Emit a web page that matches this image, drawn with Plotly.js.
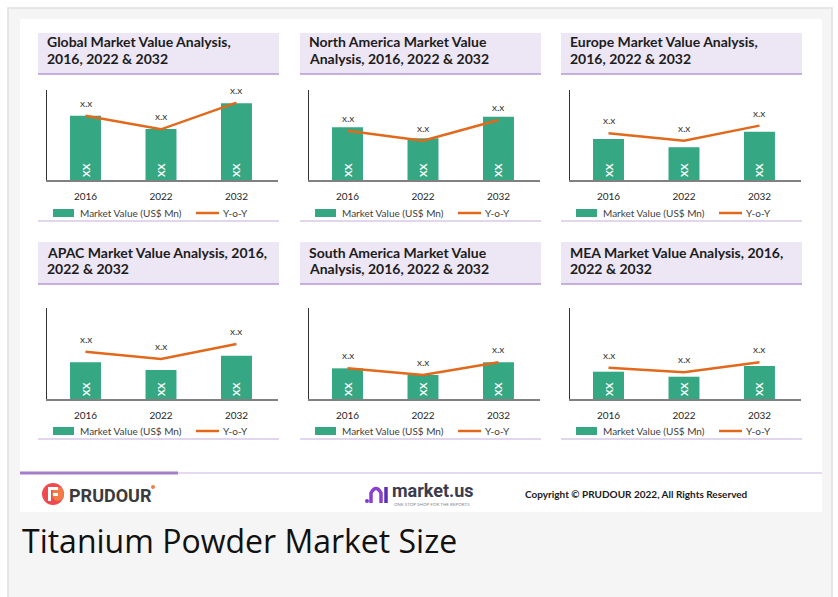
<!DOCTYPE html>
<html>
<head>
<meta charset="utf-8">
<script src="https://cdn.plot.ly/plotly-3.0.1.min.js"></script>
<style>
html,body{margin:0;padding:0;background:#ffffff;}
#chart{width:838px;height:597px;}
</style>
</head>
<body>
<div id="chart"></div>
<script>
// ---------------- DATA ----------------
const years = ['2016', '2022', '2032'];
const valueLabels = ['x.x', 'x.x', 'x.x'];
const barLabels = ['XX', 'XX', 'XX'];

const globalValue = [71.4, 56.7, 85.2];
const globalYoY   = [71.4, 56.3, 85.9];
const naValue     = [58.5, 46.3, 70.4];
const naYoY       = [54.8, 43.7, 66.7];
const europeValue = [45.6, 36.3, 53.7];
const europeYoY   = [51.9, 43.7, 60.4];
const apacValue   = [40.3, 31.9, 47.6];
const apacYoY     = [52.0, 44.0, 60.4];
const saValue     = [33.7, 26.4, 40.3];
const saYoY       = [33.7, 26.4, 40.3];
const meaValue    = [30.0, 24.5, 36.3];
const meaYoY      = [34.4, 29.3, 40.3];

const titles = [
  ['Global Market Value Analysis,', '2016, 2022 & 2032'],
  ['North America Market Value', 'Analysis, 2016, 2022 & 2032'],
  ['Europe Market Value Analysis,', '2016, 2022 & 2032'],
  ['APAC Market Value Analysis, 2016,', '2022 & 2032'],
  ['South America Market Value', 'Analysis, 2016, 2022 & 2032'],
  ['MEA Market Value Analysis, 2016,', '2022 & 2032']
];
const seriesValue = [globalValue, naValue, europeValue, apacValue, saValue, meaValue];
const seriesYoY = [globalYoY, naYoY, europeYoY, apacYoY, saYoY, meaYoY];
const legendNames = ['Market Value (US$ Mn)', 'Y-o-Y'];
const caption = 'Titanium Powder Market Size';
const copyright = 'Copyright © PRUDOUR 2022, All Rights Reserved';

// ---------------- LAYOUT HELPERS ----------------
const W = 838, H = 597;
const X = v => v / W;
const Y = v => 1 - v / H;
const FONT = 'Lato, "Open Sans", sans-serif';
const BAR = '#35a783';
const LINE = '#e2691b';
const BOXFILL = '#ede6f4';
const BOXLINE = '#b598d6';

const colLefts = [38, 300, 561];
const rows = [
  {boxTop: 33, boxBot: 74, t1: 42, t2: 58, plotTop: 90, base: 180, legend: 213, sep: 221},
  {boxTop: 242, boxBot: 284, t1: 252, t2: 268, plotTop: 308, base: 399, legend: 431, sep: 439}
];

const traces = [];
const shapes = [];
const annotations = [];
const layout = {
  width: W, height: H,
  margin: {l: 0, r: 0, t: 0, b: 0},
  paper_bgcolor: '#ffffff',
  plot_bgcolor: 'rgba(0,0,0,0)',
  showlegend: false,
  font: {family: FONT, color: '#262626'},
  bargap: 0.5
};

// page frame
shapes.push({type: 'rect', xref: 'paper', yref: 'paper', x0: X(8), x1: X(832), y0: Y(600), y1: Y(8),
  fillcolor: '#f5f5f5', line: {color: '#e0e0e0', width: 1.5}, layer: 'below'});
shapes.push({type: 'rect', xref: 'paper', yref: 'paper', x0: X(20), x1: X(822), y0: Y(512), y1: Y(19),
  fillcolor: '#ffffff', line: {width: 0}, layer: 'below'});

for (let i = 0; i < 6; i++) {
  const n = i + 1;
  const suf = n === 1 ? '' : String(n);
  const r = rows[Math.floor(i / 3)];
  const left = colLefts[i % 3];

  traces.push({
    type: 'bar', x: years, y: seriesValue[i], xaxis: 'x' + suf, yaxis: 'y' + suf,
    name: legendNames[0], width: 0.41,
    marker: {color: BAR},
    text: barLabels, textposition: 'inside', insidetextanchor: 'start', textangle: -90,
    textfont: {color: '#ffffff', size: 10, family: FONT, weight: 'bold'},
    hoverinfo: 'skip', cliponaxis: false
  });
  traces.push({
    type: 'scatter', mode: 'lines', x: years, y: seriesYoY[i], xaxis: 'x' + suf, yaxis: 'y' + suf,
    name: legendNames[1], line: {color: LINE, width: 2.5}, hoverinfo: 'skip'
  });
  seriesYoY[i].forEach((v, k) => {
    annotations.push({xref: 'x' + suf, yref: 'y' + suf, x: k, y: v, yshift: 13,
      text: valueLabels[k], showarrow: false, font: {size: 10, color: '#333333', family: FONT}});
  });

  layout['xaxis' + suf] = {
    anchor: 'y' + suf, domain: [X(left + 9), X(left + 240)], type: 'category',
    range: [-0.51, 2.55], showline: true, linecolor: '#808080', linewidth: 1.5,
    ticks: '', showgrid: false, zeroline: false, fixedrange: true,
    tickfont: {size: 10, color: '#262626', family: FONT}, ticklabelstandoff: 6
  };
  layout['yaxis' + suf] = {
    anchor: 'x' + suf, domain: [Y(r.base), Y(r.plotTop)], range: [0, 100],
    showline: true, linecolor: '#333333', linewidth: 1, showticklabels: false,
    ticks: '', showgrid: false, zeroline: false, fixedrange: true
  };

  // title box
  shapes.push({type: 'rect', xref: 'paper', yref: 'paper', x0: X(left), x1: X(left + 241),
    y0: Y(r.boxBot), y1: Y(r.boxTop), fillcolor: BOXFILL, line: {width: 0}, layer: 'below'});
  shapes.push({type: 'line', xref: 'paper', yref: 'paper', x0: X(left), x1: X(left + 241),
    y0: Y(r.boxBot), y1: Y(r.boxBot), line: {color: BOXLINE, width: 1.5}});
  [r.t1, r.t2].forEach((ty, k) => {
    annotations.push({xref: 'paper', yref: 'paper', x: X(left + 7), y: Y(ty), xanchor: 'left', yanchor: 'middle',
      text: titles[i][k], showarrow: false, font: {size: 14, color: '#1c1c1c', family: FONT, weight: 'bold'}});
  });

  // legend
  shapes.push({type: 'rect', xref: 'paper', yref: 'paper', x0: X(left + 15), x1: X(left + 36),
    y0: Y(r.legend + 4), y1: Y(r.legend - 4), fillcolor: BAR, line: {width: 0}});
  annotations.push({xref: 'paper', yref: 'paper', x: X(left + 40), y: Y(r.legend), xanchor: 'left', yanchor: 'middle',
    text: legendNames[0], showarrow: false, font: {size: 10, color: '#404040', family: FONT}});
  shapes.push({type: 'line', xref: 'paper', yref: 'paper', x0: X(left + 158), x1: X(left + 181),
    y0: Y(r.legend), y1: Y(r.legend), line: {color: LINE, width: 2.5}});
  annotations.push({xref: 'paper', yref: 'paper', x: X(left + 183), y: Y(r.legend), xanchor: 'left', yanchor: 'middle',
    text: legendNames[1], showarrow: false, font: {size: 10, color: '#404040', family: FONT}});
  // separator under legend
  shapes.push({type: 'line', xref: 'paper', yref: 'paper', x0: X(left), x1: X(left + 241),
    y0: Y(r.sep), y1: Y(r.sep), line: {color: '#d8c8ea', width: 1.5}});
}

// footer lines
shapes.push({type: 'line', xref: 'paper', yref: 'paper', x0: X(178), x1: X(822), y0: Y(473), y1: Y(473),
  line: {color: '#dccbec', width: 1.5}});
shapes.push({type: 'line', xref: 'paper', yref: 'paper', x0: X(20), x1: X(178), y0: Y(473), y1: Y(473),
  line: {color: '#a27fc9', width: 3}});

// PRUDOUR logo
shapes.push({type: 'circle', xref: 'paper', yref: 'paper', x0: X(42), x1: X(64), y0: Y(505), y1: Y(483),
  fillcolor: '#ee4a4f', line: {width: 0}});
shapes.push({type: 'circle', xref: 'paper', yref: 'paper', x0: X(52), x1: X(64), y0: Y(501), y1: Y(487),
  fillcolor: '#f47a48', line: {width: 0}});
shapes.push({type: 'rect', xref: 'paper', yref: 'paper', x0: X(48), x1: X(51), y0: Y(501), y1: Y(487),
  fillcolor: '#ffffff', line: {width: 0}});
shapes.push({type: 'rect', xref: 'paper', yref: 'paper', x0: X(48), x1: X(58), y0: Y(490), y1: Y(487),
  fillcolor: '#ffffff', line: {width: 0}});
shapes.push({type: 'rect', xref: 'paper', yref: 'paper', x0: X(53), x1: X(58), y0: Y(496), y1: Y(493),
  fillcolor: '#ffffff', line: {width: 0}});
annotations.push({xref: 'paper', yref: 'paper', x: X(67), y: Y(495), xanchor: 'left', yanchor: 'middle',
  text: 'PRUDOUR', showarrow: false, font: {size: 18, color: '#3b3b3b', family: 'Roboto, sans-serif', weight: 'bold'}});
shapes.push({type: 'circle', xref: 'paper', yref: 'paper', x0: X(151), x1: X(155), y0: Y(489), y1: Y(485),
  fillcolor: '#f47e45', line: {width: 0}});

// market.us logo
shapes.push({type: 'circle', xref: 'paper', yref: 'paper', x0: X(365), x1: X(369), y0: Y(503), y1: Y(499),
  fillcolor: '#7d3cc8', line: {width: 0}});
shapes.push({type: 'path', xref: 'paper', yref: 'paper',
  path: 'M ' + X(371) + ',' + Y(503) + ' L ' + X(371) + ',' + Y(493) + ' Q ' + X(376) + ',' + Y(484) + ' ' + X(381) + ',' + Y(493) + ' L ' + X(381) + ',' + Y(503),
  line: {color: '#8a3fd1', width: 3.5}});
shapes.push({type: 'line', xref: 'paper', yref: 'paper', x0: X(386), x1: X(386), y0: Y(503), y1: Y(487),
  line: {color: '#5b2fb0', width: 3.5}});
annotations.push({xref: 'paper', yref: 'paper', x: X(390), y: Y(490), xanchor: 'left', yanchor: 'middle',
  text: 'market.us', showarrow: false, font: {size: 18, color: '#3b3b4d', family: 'Roboto, sans-serif', weight: 'bold'}});
annotations.push({xref: 'paper', yref: 'paper', x: X(392), y: Y(504.5), xanchor: 'left', yanchor: 'middle',
  text: 'ONE STOP SHOP FOR THE REPORTS', showarrow: false, font: {size: 4.5, color: '#8a8a8a', family: FONT}});

// copyright
annotations.push({xref: 'paper', yref: 'paper', x: X(523), y: Y(494), xanchor: 'left', yanchor: 'middle',
  text: copyright, showarrow: false, font: {size: 10, color: '#1a1a1a', family: FONT, weight: 'bold'}});

// caption
annotations.push({xref: 'paper', yref: 'paper', x: X(20), y: Y(540), xanchor: 'left', yanchor: 'middle',
  text: caption, showarrow: false, font: {size: 32, color: '#111111', family: '"Open Sans", sans-serif'}});

layout.shapes = shapes;
layout.annotations = annotations;

Plotly.newPlot('chart', traces, layout, {staticPlot: true, displayModeBar: false});
</script>
</body>
</html>
